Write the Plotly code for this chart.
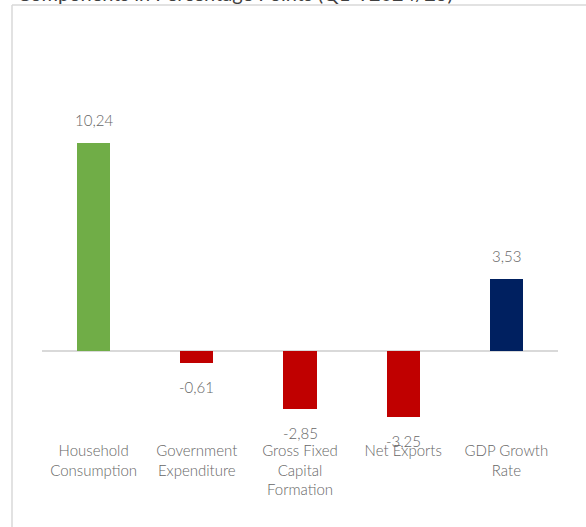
import plotly.graph_objects as go

# Contributions to GDP growth, percentage points
categories = ["Household<br>Consumption", "Government<br>Expenditure",
              "Gross Fixed<br>Capital<br>Formation", "Net Exports",
              "GDP Growth<br>Rate"]
values = [10.24, -0.61, -2.85, -3.25, 3.53]
bar_colors = ["#70AD47", "#C00000", "#C00000", "#C00000", "#002060"]
title_text = "Components in Percentage Points (Q1-Y2024/25)"

W, H = 586, 527
L, R, T, B = 42, 28, 40, 87
y_range = [-4.38, 15.32]
text_color = "#666666"
font_family = "Lato, 'Open Sans', sans-serif"

fig = go.Figure()
fig.add_trace(go.Bar(
    x=list(range(len(categories))),
    y=values,
    marker=dict(color=bar_colors, line=dict(width=0)),
    width=0.32,
    hoverinfo="skip",
))

# value labels, offset above positive bars and below negative ones
for i, v in enumerate(values):
    fig.add_annotation(
        x=i, y=v, xref="x", yref="y",
        text=f"{v:.2f}".replace(".", ","),
        showarrow=False,
        yanchor="bottom" if v >= 0 else "top",
        yshift=12 if v >= 0 else -13,
        font=dict(family=font_family, size=15, color=text_color, weight=300),
    )

# zero baseline
fig.add_shape(type="line", xref="paper", yref="y", x0=0, x1=1, y0=0, y1=0,
              line=dict(color="#d9d9d9", width=2), layer="below")

# outer frame (left and top edges)
pw = W - L - R
ph = H - T - B
def px_x(p):
    return (p - L) / pw
def px_y(p):
    return (H - B - p) / ph

fig.add_shape(type="line", xref="paper", yref="paper",
              x0=px_x(12), x1=px_x(W + 5), y0=px_y(5), y1=px_y(5),
              line=dict(color="#d9d9d9", width=1.5))
fig.add_shape(type="line", xref="paper", yref="paper",
              x0=px_x(12), x1=px_x(12), y0=px_y(5), y1=px_y(H + 5),
              line=dict(color="#d9d9d9", width=1.5))

fig.add_annotation(
    x=px_x(15), y=1, xref="paper", yref="paper",
    xanchor="left", yanchor="bottom", yshift=33,
    text=title_text, showarrow=False,
    font=dict(family=font_family, size=20, color="#404040"),
)

fig.update_layout(
    width=W, height=H,
    margin=dict(l=L, r=R, t=T, b=B, pad=0),
    paper_bgcolor="white", plot_bgcolor="white",
    showlegend=False,
    bargap=0,
    xaxis=dict(
        tickmode="array", tickvals=list(range(len(categories))),
        ticktext=categories, range=[-0.5, len(categories) - 0.5],
        showgrid=False, zeroline=False, showline=False, ticks="",
        tickangle=0,
        tickfont=dict(family=font_family, size=15, color=text_color, weight=300),
    ),
    yaxis=dict(range=y_range, visible=False, showgrid=False, zeroline=False),
)

fig.write_html("out.html")
